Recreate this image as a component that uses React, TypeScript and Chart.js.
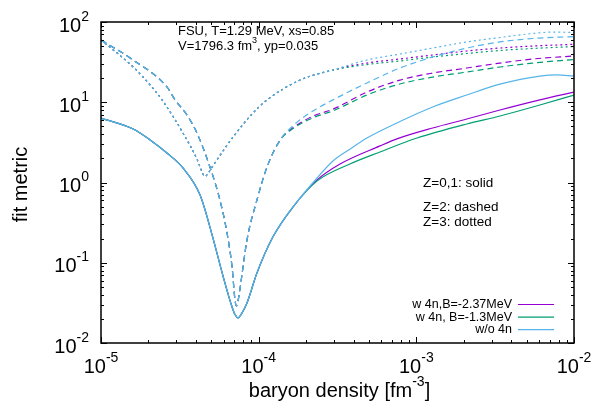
import React, { useEffect, useRef } from "react";
import { Chart, registerables } from "chart.js";
Chart.register(...registerables);

const FONT = '"Liberation Sans", Arial, Helvetica, sans-serif';

// axis decades
const xTickExps = [-5, -4, -3, -2];
const yTickExps = [-2, -1, 0, 1, 2];

// legend
const seriesNames = ["w 4n,B=-2.37MeV", "w 4n, B=-1.3MeV", "w/o 4n"];
const seriesColors = ["#9400d3", "#009e73", "#56b4e9"];

// Z=0,1 (solid) — common low-density part
const solidLowX = [1.0e-5, 1.6e-5, 2.05e-5, 2.62e-5, 3.31e-5, 4.25e-5, 5.13e-5, 5.94e-5, 6.78e-5, 7.08e-5, 7.4e-5, 7.73e-5, 8.43e-5, 9.75e-5, 1.23e-4, 1.65e-4];
const solidLowY = [6.36, 4.64, 3.39, 2.33, 1.52, 0.698, 0.203, 0.0684, 0.0281, 0.0226, 0.0205, 0.0226, 0.0315, 0.0745, 0.209, 0.495];
const solidBlueX = [2.34e-4, 2.96e-4, 3.79e-4, 4.86e-4, 7.87e-4, 1.27e-3, 2.09e-3, 3.39e-3, 6.08e-3, 7.8e-3, 1.0e-2];
const solidBlueY = [1.13, 1.85, 2.6, 3.58, 5.75, 8.73, 12.3, 16.8, 21.2, 21.9, 21.2];
const solidPurpleX = [2.34e-4, 3.28e-4, 5.88e-4, 7.53e-4, 1.27e-3, 2.09e-3, 3.39e-3, 6.08e-3, 1.0e-2];
const solidPurpleY = [1.07, 1.7, 2.86, 3.5, 4.78, 6.18, 8.0, 10.7, 13.4];
const solidGreenX = [2.34e-4, 3.79e-4, 5.88e-4, 1.01e-3, 2.09e-3, 3.39e-3, 6.08e-3, 1.0e-2];
const solidGreenY = [1.04, 1.7, 2.4, 3.58, 5.36, 6.74, 9.24, 12.3];

// Z=2 (dashed)
const dashLowX = [1.0e-5, 1.6e-5, 2.62e-5, 2.95e-5, 3.51e-5, 4.06e-5, 4.91e-5, 5.68e-5, 6.3e-5, 6.78e-5, 7.08e-5, 7.23e-5, 7.4e-5, 7.61e-5, 8.43e-5, 9.75e-5, 1.13e-4, 1.37e-4];
const dashLowY = [59.7, 33.6, 15.5, 10.7, 6.93, 4.14, 1.56, 0.605, 0.235, 0.0885, 0.0343, 0.0289, 0.0335, 0.0471, 0.192, 0.605, 1.56, 3.39];
const dashHighX = [1.65e-4, 2.21e-4, 2.96e-4, 4.86e-4, 7.87e-4, 1.27e-3, 2.09e-3, 3.39e-3, 5.48e-3, 1.0e-2];
const dashBlueY = [5.1, 7.8, 10.7, 17.4, 26.7, 36.6, 47.4, 56.4, 62.3, 65.9];
const dashPurpleY = [4.8, 6.7, 8.2, 13.4, 18.9, 23.1, 26.7, 30.8, 34.6, 37.7];
const dashGreenY = [4.7, 6.4, 7.8, 12.3, 16.9, 20.6, 23.8, 27.5, 30.8, 34.1];

// Z=3 (dotted)
const dotLowX = [1.0e-5, 1.6e-5, 2.05e-5, 2.44e-5, 3.31e-5, 4.06e-5, 4.3e-5, 4.56e-5, 4.84e-5, 5.13e-5, 5.94e-5, 6.88e-5, 9.2e-5, 1.13e-4, 1.83e-4, 2.96e-4];
const dotLowY = [59.7, 27.5, 16.4, 10.7, 4.14, 1.96, 1.47, 1.19, 1.35, 1.61, 2.47, 3.69, 7.34, 10.7, 18.9, 25.2];
const dotHighX = [4.86e-4, 7.87e-4, 1.27e-3, 2.09e-3, 3.39e-3, 5.48e-3, 7.46e-3, 1.0e-2];
const dotBlueY = [33.6, 39.9, 47.4, 56.4, 64.1, 71.9, 75.0, 73.9];
const dotPurpleY = [30.8, 34.6, 38.8, 43.5, 47.4, 50.2, 51.5, 52.7];
const dotGreenY = [29.5, 32.7, 36.6, 40.5, 44.2, 46.8, 48.2, 49.5];

const pts = (xs: number[], ys: number[]) => xs.map((x, i) => ({ x, y: ys[i] }));

const DASHED = [6, 4];
const DOTTED = [2, 3];

function mkDataset(data: { x: number; y: number }[], color: string, dash: number[]) {
  return {
    data,
    borderColor: color,
    backgroundColor: color,
    borderWidth: 1.2,
    borderDash: dash,
    pointRadius: 0,
    showLine: true,
    fill: false,
    cubicInterpolationMode: "monotone" as const,
  };
}

function drawPow(ctx: CanvasRenderingContext2D, base: string, exp: string, x: number, y: number, size: number, align: "center" | "right") {
  ctx.font = `${size}px ${FONT}`;
  const wb = ctx.measureText(base).width;
  const es = Math.round(size * 0.7);
  ctx.font = `${es}px ${FONT}`;
  const we = ctx.measureText(exp).width;
  const total = wb + we;
  const start = align === "center" ? x - total / 2 : x - total;
  ctx.textAlign = "left";
  ctx.font = `${size}px ${FONT}`;
  ctx.fillText(base, start, y);
  ctx.font = `${es}px ${FONT}`;
  ctx.fillText(exp, start + wb, y - size * 0.55);
}

const overlay = {
  id: "overlay",
  afterDraw(chart: any) {
    const { ctx, chartArea } = chart;
    const { left, right, top, bottom } = chartArea;
    const xs = chart.scales.x;
    const ys = chart.scales.y;
    ctx.save();
    ctx.strokeStyle = "#000";
    ctx.fillStyle = "#000";
    // ticks
    ctx.lineWidth = 1;
    ctx.beginPath();
    for (const d of xTickExps) {
      for (let m = 1; m <= 9; m++) {
        const v = m * Math.pow(10, d);
        if (v > 1.0001e-2) continue;
        const px = Math.round(xs.getPixelForValue(v)) + 0.5;
        const len = m === 1 ? 6 : 3;
        ctx.moveTo(px, bottom);
        ctx.lineTo(px, bottom - len);
        ctx.moveTo(px, top);
        ctx.lineTo(px, top + len);
      }
    }
    for (const d of yTickExps) {
      for (let m = 1; m <= 9; m++) {
        const v = m * Math.pow(10, d);
        if (v > 100.01) continue;
        const py = Math.round(ys.getPixelForValue(v)) + 0.5;
        const len = m === 1 ? 6 : 3;
        ctx.moveTo(left, py);
        ctx.lineTo(left + len, py);
        ctx.moveTo(right, py);
        ctx.lineTo(right - len, py);
      }
    }
    ctx.stroke();
    // frame
    ctx.lineWidth = 1.5;
    ctx.strokeRect(left, top, right - left, bottom - top);

    // tick labels
    ctx.textBaseline = "alphabetic";
    for (const d of xTickExps) {
      const px = xs.getPixelForValue(Math.pow(10, d));
      drawPow(ctx, "10", String(d), px, 373, 20, "center");
    }
    for (const d of yTickExps) {
      const py = ys.getPixelForValue(Math.pow(10, d));
      drawPow(ctx, "10", String(d), 89, py + 9.5, 20, "right");
    }

    // axis titles
    ctx.font = `20px ${FONT}`;
    const t1 = "baryon density [fm";
    const t2 = "-3";
    const t3 = "]";
    const w1 = ctx.measureText(t1).width;
    const w3 = ctx.measureText(t3).width;
    ctx.font = `14px ${FONT}`;
    const w2 = ctx.measureText(t2).width;
    const cx = (left + right) / 2 + 2;
    let sx = cx - (w1 + w2 + w3) / 2;
    ctx.textAlign = "left";
    ctx.font = `20px ${FONT}`;
    ctx.fillText(t1, sx, 397);
    ctx.font = `14px ${FONT}`;
    ctx.fillText(t2, sx + w1, 386);
    ctx.font = `20px ${FONT}`;
    ctx.fillText(t3, sx + w1 + w2, 397);

    ctx.save();
    ctx.translate(27, (top + bottom) / 2 + 2);
    ctx.rotate(-Math.PI / 2);
    ctx.textAlign = "center";
    ctx.font = `20px ${FONT}`;
    ctx.fillText("fit metric", 0, 0);
    ctx.restore();

    // annotations
    ctx.textAlign = "left";
    ctx.font = `13px ${FONT}`;
    ctx.fillText("FSU, T=1.29 MeV, xs=0.85", 178, 35);
    const a1 = "V=1796.3 fm";
    const wa1 = ctx.measureText(a1).width;
    ctx.fillText(a1, 178, 50);
    ctx.font = `9px ${FONT}`;
    ctx.fillText("3", 178 + wa1, 43);
    const wa2 = ctx.measureText("3").width;
    ctx.font = `13px ${FONT}`;
    ctx.fillText(", yp=0.035", 178 + wa1 + wa2, 50);

    ctx.font = `13.5px ${FONT}`;
    ctx.fillText("Z=0,1: solid", 423, 187);
    ctx.fillText("Z=2: dashed", 423, 211);
    ctx.fillText("Z=3: dotted", 423, 226);

    // legend
    ctx.font = `12.5px ${FONT}`;
    ctx.textAlign = "right";
    ctx.lineWidth = 1.2;
    seriesNames.forEach((name, i) => {
      const base = 308 + i * 12.6;
      ctx.fillText(name, 512, base);
      ctx.strokeStyle = seriesColors[i];
      ctx.beginPath();
      ctx.moveTo(518, base - 3.5);
      ctx.lineTo(554, base - 3.5);
      ctx.stroke();
    });
    ctx.restore();
  },
};

export default function App() {
  const ref = useRef<HTMLCanvasElement | null>(null);
  useEffect(() => {
    if (!ref.current) return;
    const [purple, green, blue] = seriesColors;
    const datasets = [
      mkDataset(pts([...solidLowX, ...solidBlueX], [...solidLowY, ...solidBlueY]), blue, []),
      mkDataset(pts([...dashLowX, ...dashHighX], [...dashLowY, ...dashBlueY]), blue, DASHED),
      mkDataset(pts([...dotLowX, ...dotHighX], [...dotLowY, ...dotBlueY]), blue, DOTTED),
      mkDataset(pts([...solidLowX, ...solidGreenX], [...solidLowY, ...solidGreenY]), green, []),
      mkDataset(pts([...dashLowX, ...dashHighX], [...dashLowY, ...dashGreenY]), green, DASHED),
      mkDataset(pts([...dotLowX, ...dotHighX], [...dotLowY, ...dotGreenY]), green, DOTTED),
      mkDataset(pts([...solidLowX, ...solidPurpleX], [...solidLowY, ...solidPurpleY]), purple, []),
      mkDataset(pts([...dashLowX, ...dashHighX], [...dashLowY, ...dashPurpleY]), purple, DASHED),
      mkDataset(pts([...dotLowX, ...dotHighX], [...dotLowY, ...dotPurpleY]), purple, DOTTED),
    ];
    const chart = new Chart(ref.current, {
      type: "scatter",
      data: { datasets: datasets as any },
      options: {
        animation: false,
        responsive: false,
        devicePixelRatio: 1,
        layout: { padding: { top: 22, right: 34, left: 0, bottom: 0 } },
        plugins: { legend: { display: false }, tooltip: { enabled: false } },
        scales: {
          x: {
            type: "logarithmic",
            min: 1e-5,
            max: 1e-2,
            ticks: { display: false },
            grid: { display: false, drawTicks: false },
            border: { display: false },
            afterFit: (s: any) => {
              s.height = 65;
            },
          },
          y: {
            type: "logarithmic",
            min: 1e-2,
            max: 1e2,
            ticks: { display: false },
            grid: { display: false, drawTicks: false },
            border: { display: false },
            afterFit: (s: any) => {
              s.width = 101;
            },
          },
        },
      },
      plugins: [overlay],
    });
    return () => chart.destroy();
  }, []);
  return (
    <div style={{ position: "absolute", left: 0, top: 0, width: 608, height: 408, background: "#fff" }}>
      <canvas ref={ref} width={608} height={408} style={{ display: "block" }} />
    </div>
  );
}
